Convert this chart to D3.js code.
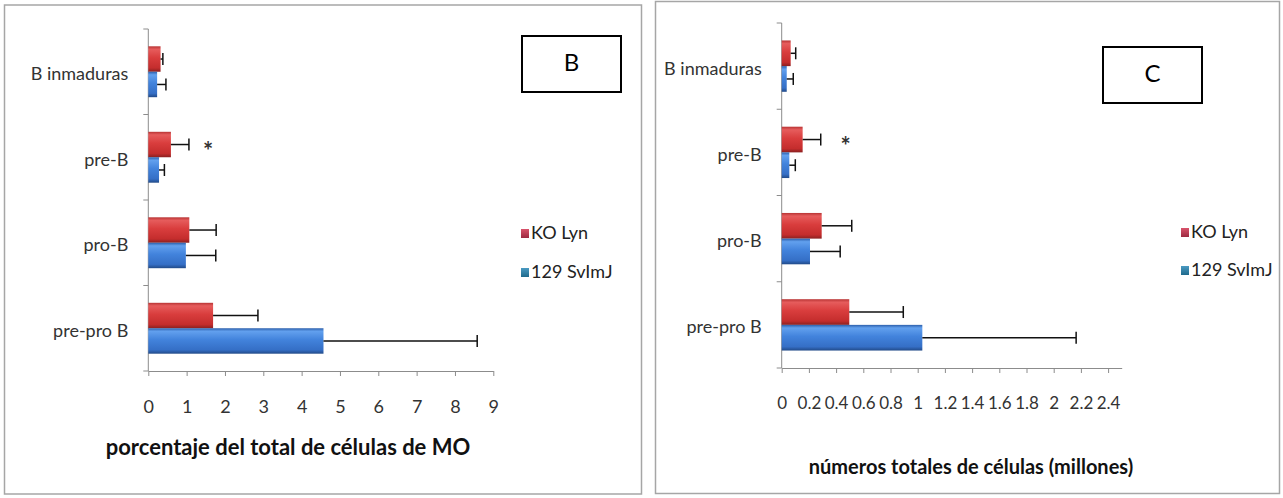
<!DOCTYPE html>
<html>
<head>
<meta charset="utf-8">
<script src="https://cdn.jsdelivr.net/npm/d3@7"></script>
<style>
  body { margin: 0; background: #fff; }
  svg { display: block; font-family: Lato, "Open Sans", sans-serif; }
</style>
</head>
<body>
<svg id="chart" width="1283" height="498"></svg>
<script>
// categories, top to bottom
const categories = ['B inmaduras', 'pre-B', 'pro-B', 'pre-pro B'];
const seriesNames = ['KO Lyn', '129 SvImJ'];

// panel B: % of total bone marrow cells
const pctKO = [0.32, 0.59, 1.07, 1.69];
const pctKOErr = [0.06, 0.47, 0.70, 1.17];
const pctWT = [0.23, 0.28, 0.98, 4.57];
const pctWTErr = [0.23, 0.14, 0.78, 4.01];
const pctTicks = [0, 1, 2, 3, 4, 5, 6, 7, 8, 9];

// panel C: total cell numbers (millions)
const numKO = [0.066, 0.154, 0.294, 0.497];
const numKOErr = [0.037, 0.133, 0.221, 0.397];
const numWT = [0.037, 0.056, 0.208, 1.034];
const numWTErr = [0.048, 0.044, 0.222, 1.131];
const numTicks = [0, 0.2, 0.4, 0.6, 0.8, 1, 1.2, 1.4, 1.6, 1.8, 2, 2.2, 2.4];

// significance marks
const starCategory = 'pre-B';
const pctStarAt = 1.56;
const numStarAt = 0.47;

const svg = d3.select('#chart');

// gradients for the bevelled Excel bars
const defs = svg.append('defs');
function addGradient(id, stops) {
  const g = defs.append('linearGradient').attr('id', id)
    .attr('x1', 0).attr('y1', 0).attr('x2', 0).attr('y2', 1);
  stops.forEach(s => g.append('stop').attr('offset', s[0]).attr('stop-color', s[1]));
}
addGradient('gradRed', [[0, '#b83434'], [0.12, '#e65c5c'], [0.45, '#d93d3d'], [0.85, '#c42d2d'], [1, '#8a2020']]);
addGradient('gradBlue', [[0, '#2c5fab'], [0.12, '#62a0ee'], [0.45, '#4283dc'], [0.85, '#356fc6'], [1, '#214a88']]);
addGradient('swRed', [[0, '#d9536b'], [1, '#9c2a40']]);
addGradient('swBlue', [[0, '#4a9ac2'], [1, '#1f6a8c']]);
const fills = ['url(#gradRed)', 'url(#gradBlue)'];
const swatchFills = ['url(#swRed)', 'url(#swBlue)'];

function drawPanel(cfg) {
  const g = svg.append('g');

  // outer frame
  g.append('rect')
    .attr('x', cfg.frame[0]).attr('y', cfg.frame[1])
    .attr('width', cfg.frame[2]).attr('height', cfg.frame[3])
    .attr('fill', 'none').attr('stroke', '#a6a6a6').attr('stroke-width', 1.5);

  const x = d3.scaleLinear().domain([0, cfg.max]).range(cfg.xRange);
  const y = d3.scaleBand().domain(categories).range(cfg.yRange);
  const ySub = d3.scaleBand().domain(seriesNames)
    .range([0, y.bandwidth()]).paddingOuter(0.68);

  const rows = categories.map((c, i) => ({
    cat: c,
    vals: [
      {s: seriesNames[0], v: cfg.ko[i], e: cfg.koErr[i]},
      {s: seriesNames[1], v: cfg.wt[i], e: cfg.wtErr[i]}
    ]
  }));

  // x axis
  const xAxis = g.append('g')
    .attr('transform', 'translate(0,' + cfg.yRange[1] + ')')
    .call(d3.axisBottom(x).tickValues(cfg.ticks).tickSize(5).tickSizeOuter(0)
      .tickFormat(d => String(d)));
  xAxis.select('.domain').attr('stroke', '#8c8c8c');
  xAxis.selectAll('.tick line').attr('stroke', '#8c8c8c');
  xAxis.selectAll('.tick text')
    .attr('y', 29).attr('fill', '#333')
    .style('font-size', cfg.tickSize + 'px').style('font-family', 'Lato, sans-serif');

  // y axis (ticks between categories)
  const yAxisG = g.append('g').attr('transform', 'translate(' + cfg.xRange[0] + ',0)');
  yAxisG.append('line')
    .attr('y1', cfg.yRange[0]).attr('y2', cfg.yRange[1])
    .attr('stroke', '#8c8c8c');
  yAxisG.selectAll('.sep')
    .data(categories.concat(['end']))
    .enter().append('line')
    .attr('x1', -5).attr('x2', 0)
    .attr('y1', (d, i) => i < categories.length ? y(d) : cfg.yRange[1])
    .attr('y2', (d, i) => i < categories.length ? y(d) : cfg.yRange[1])
    .attr('stroke', '#8c8c8c');
  yAxisG.selectAll('.lab')
    .data(categories)
    .enter().append('text')
    .attr('x', -20)
    .attr('y', d => y(d) + y.bandwidth() / 2 + 4)
    .attr('text-anchor', 'end')
    .attr('dominant-baseline', 'middle')
    .attr('fill', '#333')
    .style('font-size', '18px')
    .text(d => d);

  // bars
  const cat = g.selectAll('.cat')
    .data(rows)
    .enter().append('g')
    .attr('transform', d => 'translate(0,' + y(d.cat) + ')');

  cat.selectAll('rect')
    .data(d => d.vals)
    .enter().append('rect')
    .attr('x', x(0))
    .attr('y', d => ySub(d.s))
    .attr('width', d => x(d.v) - x(0))
    .attr('height', ySub.bandwidth())
    .attr('fill', (d, i) => fills[i]);

  // error bars (plus direction only)
  const err = cat.selectAll('.err')
    .data(d => d.vals)
    .enter().append('g')
    .attr('transform', d => 'translate(0,' + (ySub(d.s) + ySub.bandwidth() / 2) + ')');
  err.append('line')
    .attr('x1', d => x(d.v)).attr('x2', d => x(d.v + d.e))
    .attr('stroke', '#111').attr('stroke-width', 1.5);
  err.append('line')
    .attr('x1', d => x(d.v + d.e)).attr('x2', d => x(d.v + d.e))
    .attr('y1', -6).attr('y2', 6)
    .attr('stroke', '#111').attr('stroke-width', 1.5);

  // significance star
  g.append('text')
    .attr('x', x(cfg.starAt))
    .attr('y', y(starCategory) + y.bandwidth() * 0.36 + 9)
    .attr('text-anchor', 'middle')
    .attr('dominant-baseline', 'middle')
    .attr('fill', '#333')
    .style('font-size', '24px').style('font-weight', 'bold')
    .text('*');

  // axis title
  g.append('text')
    .attr('x', cfg.title[0]).attr('y', cfg.title[1])
    .attr('text-anchor', 'middle')
    .attr('fill', '#111')
    .style('font-size', cfg.titleSize + 'px').style('font-weight', 'bold')
    .text(cfg.titleText);

  // legend
  const leg = g.selectAll('.leg')
    .data(seriesNames)
    .enter().append('g')
    .attr('transform', (d, i) => 'translate(' + cfg.legend[0] + ',' + (cfg.legend[1] + i * cfg.legend[2]) + ')');
  leg.append('rect')
    .attr('x', 0).attr('y', -4).attr('width', 8).attr('height', 9)
    .attr('fill', (d, i) => swatchFills[i]);
  leg.append('text')
    .attr('x', 10).attr('y', 1)
    .attr('dominant-baseline', 'middle')
    .attr('fill', '#222')
    .style('font-size', '18px')
    .text(d => d);

  // panel letter box
  g.append('rect')
    .attr('x', cfg.box[0]).attr('y', cfg.box[1])
    .attr('width', cfg.box[2]).attr('height', cfg.box[3])
    .attr('fill', '#fff').attr('stroke', '#000').attr('stroke-width', 2);
  g.append('text')
    .attr('x', cfg.box[0] + cfg.box[2] / 2)
    .attr('y', cfg.box[1] + cfg.box[3] / 2 + 1)
    .attr('text-anchor', 'middle')
    .attr('dominant-baseline', 'middle')
    .attr('fill', '#000')
    .style('font-size', '24px')
    .text(cfg.letter);
}

drawPanel({
  frame: [4.5, 5, 637, 489],
  max: 9, xRange: [148.3, 493.3], yRange: [29, 371],
  ko: pctKO, koErr: pctKOErr, wt: pctWT, wtErr: pctWTErr,
  ticks: pctTicks, starAt: pctStarAt, tickSize: 18,
  title: [288, 455], titleSize: 22, titleText: 'porcentaje del total de células de MO',
  legend: [521, 233, 39],
  box: [522, 36, 99, 56], letter: 'B'
});

drawPanel({
  frame: [655.5, 1.5, 624, 492],
  max: 2.5, xRange: [781.7, 1121.7], yRange: [23, 368],
  ko: numKO, koErr: numKOErr, wt: numWT, wtErr: numWTErr,
  ticks: numTicks, starAt: numStarAt, tickSize: 17,
  title: [971, 474], titleSize: 20, titleText: 'números totales de células (millones)',
  legend: [1181, 232, 38],
  box: [1103, 47, 99, 56], letter: 'C'
});
</script>
</body>
</html>
